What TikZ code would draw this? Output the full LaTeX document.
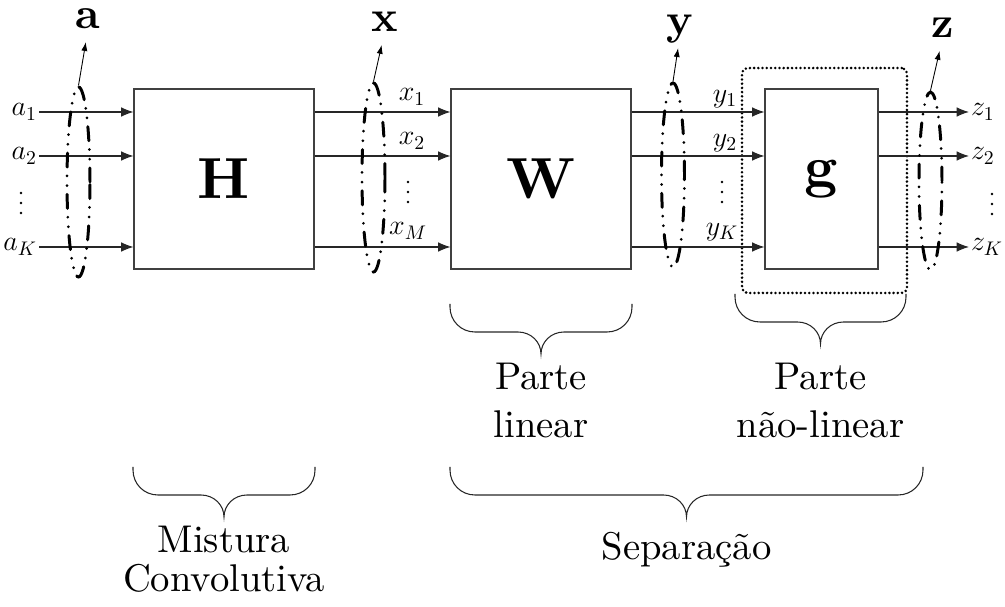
\RequirePackage{fix-cm}
\documentclass[tikz,border=0pt]{standalone}
\usepackage{fontspec}
\setmainfont{lmroman10-regular.otf}[BoldFont=lmroman10-bold.otf,
  ItalicFont=lmroman10-italic.otf]
\usetikzlibrary{arrows.meta,shapes.geometric}

% curly brace: #1 left x, #2 tip x, #3 right x, #4 y of the horizontal part
\newcommand{\curlybrace}[4]{%
  \draw[bracestyle] (#1,#4-28) -- (#1,#4-25)
    .. controls (#1,#4-11) and (#1+11,#4) .. (#1+25,#4)
    -- (#2-23,#4)
    .. controls (#2-10,#4) and (#2,#4+10) .. (#2,#4+22)
    .. controls (#2,#4+10) and (#2+10,#4) .. (#2+23,#4)
    -- (#3-25,#4)
    .. controls (#3-11,#4) and (#3,#4-11) .. (#3,#4-25) -- (#3,#4-28);}
% vertical ellipsis: #1 x, #2 y of the middle dot
\newcommand{\dotcolumn}[2]{%
  \fill (#1,#2-10) circle[radius=1.35] (#1,#2) circle[radius=1.35]
        (#1,#2+10) circle[radius=1.35];}

\begin{document}
\begin{tikzpicture}[x=0.02cm,y=-0.02cm,
  blockbox/.style={draw=black!75,line width=0.6pt,minimum width=3.6cm,
    minimum height=3.6cm,inner sep=0pt,font=\fontsize{33}{36}\selectfont\bfseries},
  sig/.style={draw=black!85,line width=0.65pt,-{Latex[length=7pt,width=5.5pt]}},
  group/.style={draw,ellipse,line width=1.7pt,line cap=round,
    dash pattern=on 8pt off 5pt on 0pt off 5.5pt on 0pt off 5pt,
    minimum width=0.46cm,inner sep=0pt},
  vlabel/.style={font=\fontsize{25}{28}\selectfont\bfseries,inner sep=0pt,
    text depth=0pt,anchor=base},
  ptr/.style={line width=0.5pt,-{Latex[length=5pt,width=3.5pt]},shorten >=7.4pt},
  sublabel/.style={font=\fontsize{16}{19}\selectfont,inner sep=1pt},
  caption/.style={font=\fontsize{22}{27}\selectfont,anchor=base,inner sep=0pt},
  bracestyle/.style={line width=0.6pt,black!85}
]
\useasboundingbox (0,0) rectangle (1005,607);

% signal rows
\coordinate (r1) at (0,112);
\coordinate (r2) at (0,156);
\coordinate (rK) at (0,247);

% blocks
\node[blockbox] (H) at (224,179) {H};
\node[blockbox] (W) at (541,179) {W};
\node[blockbox,minimum width=2.26cm] (g) at (821.5,179) {g};
\node[draw,line width=1.6pt,line cap=round,dash pattern=on 0pt off 2.4pt,
  rounded corners=3pt,minimum width=3.3cm,minimum height=4.5cm,inner sep=0pt]
  (nl) at (824.5,180.5) {};

% sources a
\node[sublabel,anchor=east] (a1) at (39,112) {$a_1$};
\node[sublabel,anchor=east] (a2) at (39,156) {$a_2$};
\node[sublabel,anchor=east] (aK) at (39,247) {$a_K$};
\dotcolumn{21}{203}
\draw[sig] (a1.east) -- (a1.east -| H.west);
\draw[sig] (a2.east) -- (a2.east -| H.west);
\draw[sig] (aK.east) -- (aK.east -| H.west);

% mixtures x
\draw[sig] (H.east |- r1) -- (W.west |- r1);
\draw[sig] (H.east |- r2) -- (W.west |- r2);
\draw[sig] (H.east |- rK) -- (W.west |- rK);
\node[sublabel] (x1) at (412,97) {$x_1$};
\node[sublabel] (x2) at (412,141) {$x_2$};
\node[sublabel] (xM) at (408,231) {$x_M$};
\dotcolumn{408}{192}

% outputs y
\draw[sig] (W.east |- r1) -- (g.west |- r1);
\draw[sig] (W.east |- r2) -- (g.west |- r2);
\draw[sig] (W.east |- rK) -- (g.west |- rK);
\node[sublabel] (y1) at (725,99) {$y_1$};
\node[sublabel] (y2) at (725,143) {$y_2$};
\node[sublabel] (yK) at (722,232) {$y_K$};
\dotcolumn{722}{192}

% estimates z
\node[sublabel,anchor=west] (z1) at (969,112) {$z_1$};
\node[sublabel,anchor=west] (z2) at (969,156) {$z_2$};
\node[sublabel,anchor=west] (zK) at (969,247) {$z_K$};
\dotcolumn{992}{204}
\draw[sig] (g.east |- r1) -- (z1.west);
\draw[sig] (g.east |- r2) -- (z2.west);
\draw[sig] (g.east |- rK) -- (zK.west);

% vector groupings
\node[group,minimum height=3.8cm] (ea) at (78.5,182) {};
\node[group,minimum height=3.78cm] (ex) at (373.5,177.5) {};
\node[group,minimum height=3.68cm] (ey) at (673,175) {};
\node[group,minimum height=3.56cm] (ez) at (930.5,181) {};
\node[vlabel] (va) at (88,29) {a};
\node[vlabel] (vx) at (384.5,32) {x};
\node[vlabel] (vy) at (680,35) {y};
\node[vlabel] (vz) at (942.5,38) {z};
\draw[ptr] (ea.north) -- (va.south);
\draw[ptr] (ex.north) -- (vx.south);
\draw[ptr] (ey.north) -- (vy.south);
\draw[ptr] (ez.north) -- (vz.south);

% braces and captions
\curlybrace{450}{541}{632}{332}
\curlybrace{735}{820.5}{906}{322}
\curlybrace{133}{224}{315}{495}
\curlybrace{450}{686.5}{923}{495}

\node[caption] (pl1) at (541,390) {Parte};
\node[caption] (pl2) at (541,438) {linear};
\node[caption] (pn1) at (820.5,390) {Parte};
\node[caption] (pn2) at (820.5,438) {não-linear};
\node[caption] (mc1) at (224,553) {Mistura};
\node[caption] (mc2) at (224,592) {Convolutiva};
\node[caption] (sep) at (686.5,560) {Separação};
\end{tikzpicture}
\end{document}
